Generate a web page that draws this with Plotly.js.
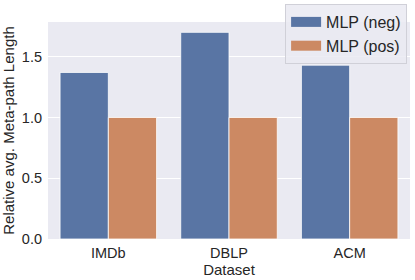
<!DOCTYPE html>
<html><head><meta charset="utf-8">
<script src="https://cdn.plot.ly/plotly-3.0.1.min.js"></script>
<style>html,body{margin:0;padding:0;background:#fff}#chart{width:415px;height:280px}</style>
</head><body><div id="chart"></div>
<script>
var categories = ["IMDb", "DBLP", "ACM"];
var seriesNames = ["MLP (neg)", "MLP (pos)"];
var negValues = [1.37, 1.70, 1.43];
var posValues = [1.00, 1.00, 1.00];
var yTicks = [0.0, 0.5, 1.0, 1.5];
var yTickLabels = ["0.0", "0.5", "1.0", "1.5"];
var colors = ["#5975a4", "#cc8963"];

var font = "Liberation Sans, Arial, sans-serif";
var traces = [
  {type:"bar", x:categories, y:negValues, name:seriesNames[0], showlegend:false,
   marker:{color:colors[0], line:{color:"#ffffff", width:0.8}}},
  {type:"bar", x:categories, y:posValues, name:seriesNames[1], showlegend:false,
   marker:{color:colors[1], line:{color:"#ffffff", width:0.8}}},
  {type:"scatter", mode:"lines", x:[null], y:[null], name:seriesNames[0],
   line:{color:colors[0], width:11}, hoverinfo:"skip"},
  {type:"scatter", mode:"lines", x:[null], y:[null], name:seriesNames[1],
   line:{color:colors[1], width:11}, hoverinfo:"skip"}
];
var layout = {
  width:415, height:280,
  margin:{l:48, r:5, t:21, b:41},
  paper_bgcolor:"#ffffff", plot_bgcolor:"#eaeaf2",
  barmode:"group", bargap:0.2, bargroupgap:0,
  font:{family:font, color:"#262626", size:14},
  xaxis:{type:"category", range:[-0.5, 2.5], showgrid:false, zeroline:false,
    ticks:"", tickfont:{size:14.5, color:"#262626"}, ticklabelstandoff:3,
    title:{text:"Dataset", font:{size:15, color:"#262626"}, standoff:0}},
  yaxis:{range:[0, 1.785], tickvals:yTicks, ticktext:yTickLabels,
    showgrid:true, gridcolor:"#ffffff", gridwidth:1, zeroline:false, ticks:"",
    tickfont:{size:14.5, color:"#262626"}, ticklabelstandoff:5,
    title:{text:"Relative avg. Meta-path Length", font:{size:15, color:"#262626"}, standoff:3}},
  showlegend:true,
  legend:{x:0.992, y:1.078, xanchor:"right", yanchor:"top",
    bgcolor:"rgba(234,234,242,0.85)", bordercolor:"#d0d0d8", borderwidth:1,
    font:{size:16, color:"#262626"}, itemwidth:30, tracegroupgap:0}
};
Plotly.newPlot("chart", traces, layout, {displayModeBar:false, staticPlot:true});
</script></body></html>
